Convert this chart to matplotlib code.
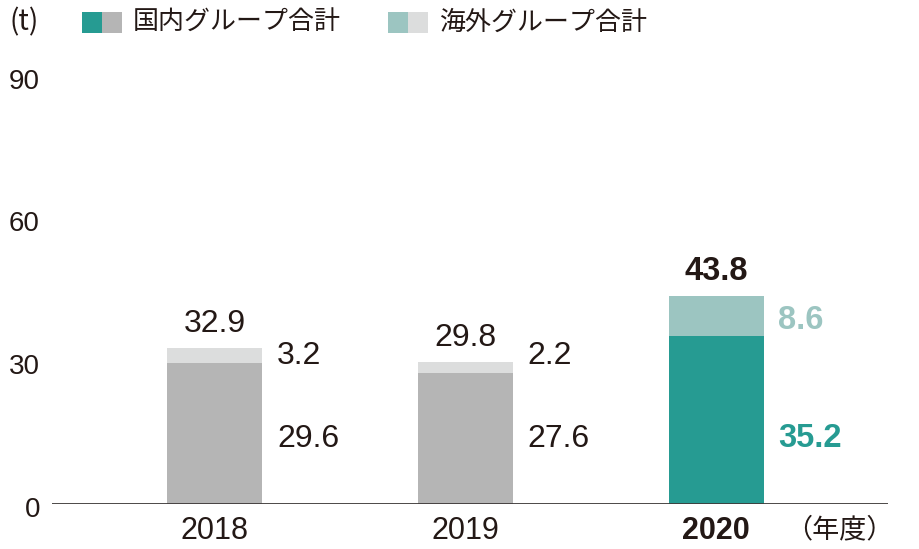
import matplotlib
matplotlib.use("Agg")
import matplotlib.pyplot as plt
from matplotlib.patches import Rectangle
from matplotlib.transforms import offset_copy

years = ["2018", "2019", "2020"]
domestic = [29.6, 27.6, 35.2]
overseas = [3.2, 2.2, 8.6]
totals = [32.9, 29.8, 43.8]
yticks = [0, 30, 60, 90]

TEAL = "#269b92"
TEAL_L = "#9cc5c1"
GRAY = "#b5b5b5"
GRAY_L = "#dcdddd"
INK = "#231815"

CJK = ["Noto Sans CJK JP", "DejaVu Sans"]
NUM = ["Liberation Sans", "DejaVu Sans"]

W, H = 920, 549
fig = plt.figure(figsize=(W / 100, H / 100), dpi=100)
ax = fig.add_axes([52 / W, 45 / H, (888 - 52) / W, (504 - 60) / H])

px_per_unit = 250.75
xlo = -162.5 / px_per_unit
xhi = 2 + 172 / px_per_unit
ax.set_xlim(xlo, xhi)
ax.set_ylim(0, (504 - 60) / 4.76)
bw = 95 / px_per_unit

xs = list(range(len(years)))
highlight = [False, False, True]
for i, x in enumerate(xs):
    c1 = TEAL if highlight[i] else GRAY
    c2 = TEAL_L if highlight[i] else GRAY_L
    ax.bar(x, domestic[i], width=bw, color=c1, linewidth=0, zorder=2)
    ax.bar(x, overseas[i], bottom=domestic[i], width=bw, color=c2, linewidth=0, zorder=2)

    bold = "bold" if highlight[i] else "normal"
    fs = 23.5 if highlight[i] else 23
    ax.text(x, totals[i] + 5.0, f"{totals[i]:.1f}", ha="center", va="center",
            fontsize=fs, family=NUM, weight=bold, color=INK)
    lx = x + bw / 2 + 15 / px_per_unit
    oy = max(domestic[i] + overseas[i] / 2 - 0.9, 31.0)
    ax.text(lx, oy, f"{overseas[i]:.1f}", ha="left", va="center", fontsize=fs,
            family=NUM, weight=bold, color=(TEAL_L if highlight[i] else INK))
    ax.text(lx, 13.7, f"{domestic[i]:.1f}", ha="left", va="center", fontsize=fs,
            family=NUM, weight=bold, color=(TEAL if highlight[i] else INK))
    ax.text(x, 0, years[i], ha="center", va="center", fontsize=22, family=NUM,
            weight=bold, color=INK,
            transform=offset_copy(ax.transData, fig=fig, x=0, y=-27, units="dots"))

ax.text(xhi + 6 / px_per_unit, 0, "（年度）", ha="right", va="center", fontsize=19.5,
        family=CJK, color=INK,
        transform=offset_copy(ax.transData, fig=fig, x=0, y=-26, units="dots"))

for v in yticks:
    ax.text(xlo - 12 / px_per_unit, v, str(v), ha="right", va="center",
            fontsize=20, family=NUM, color=INK,
            transform=offset_copy(ax.transData, fig=fig, x=0, y=-6, units="dots"))

ax.axhline(0, color="#3e3a39", linewidth=1.3, zorder=3)
for s in ax.spines.values():
    s.set_visible(False)
ax.set_xticks([])
ax.set_yticks([])
ax.patch.set_alpha(0)

# legend
def fy(p):
    return 1 - p / H

fig.text(9 / W, fy(22), "(t)", ha="left", va="center", fontsize=20, family=CJK, color=INK)
sw = 20
for x0, ca, cb, label in [(82, TEAL, GRAY, "国内グループ合計"),
                          (388, TEAL_L, GRAY_L, "海外グループ合計")]:
    fig.add_artist(Rectangle((x0 / W, fy(33)), sw / W, 21 / H, transform=fig.transFigure,
                             color=ca, linewidth=0))
    fig.add_artist(Rectangle(((x0 + sw) / W, fy(33)), sw / W, 21 / H, transform=fig.transFigure,
                             color=cb, linewidth=0))
    fig.text((x0 + 51) / W, fy(22), label, ha="left", va="center", fontsize=18.7,
             family=CJK, color=INK)

fig.savefig("out.png", dpi=100)
